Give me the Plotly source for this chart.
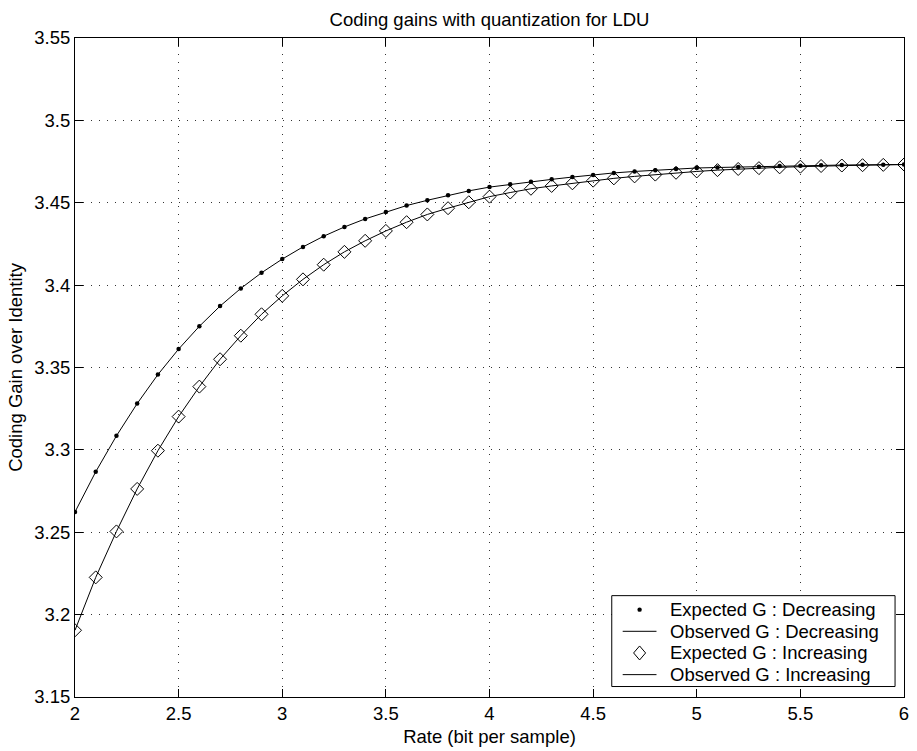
import plotly.graph_objects as go

# Rate axis (bit per sample)
rate = [round(2.0 + 0.1 * i, 1) for i in range(41)]

# Expected coding gain, decreasing ordering
expected_dec = [
    3.2623, 3.2867, 3.3085, 3.3281, 3.3457, 3.3612, 3.3750, 3.3873, 3.3980, 3.4075,
    3.4158, 3.4232, 3.4297, 3.4353, 3.4402, 3.4444, 3.4483, 3.4515, 3.4545, 3.4572,
    3.4595, 3.4612, 3.4628, 3.4642, 3.4656, 3.4669, 3.4681, 3.4690, 3.4697, 3.4705,
    3.4711, 3.4714, 3.4717, 3.4719, 3.4723, 3.4725, 3.4727, 3.4729, 3.4730, 3.4731,
    3.4732,
]

# Expected coding gain, increasing ordering
expected_inc = [
    3.1905, 3.2226, 3.2505, 3.2763, 3.2995, 3.3202, 3.3384, 3.3550, 3.3693, 3.3823,
    3.3935, 3.4035, 3.4124, 3.4202, 3.4269, 3.4329, 3.4382, 3.4429, 3.4467, 3.4503,
    3.4537, 3.4562, 3.4585, 3.4602, 3.4618, 3.4634, 3.4648, 3.4660, 3.4671, 3.4682,
    3.4690, 3.4698, 3.4705, 3.4710, 3.4715, 3.4719, 3.4723, 3.4726, 3.4728, 3.4730,
    3.4732,
]

# Observed coding gains (curves drawn through the expected points)
observed_dec = list(expected_dec)
observed_inc = list(expected_inc)

x_tickvals = [2, 2.5, 3, 3.5, 4, 4.5, 5, 5.5, 6]
x_ticktext = ["2", "2.5", "3", "3.5", "4", "4.5", "5", "5.5", "6"]
y_tickvals = [3.15, 3.2, 3.25, 3.3, 3.35, 3.4, 3.45, 3.5, 3.55]
y_ticktext = ["3.15", "3.2", "3.25", "3.3", "3.35", "3.4", "3.45", "3.5", "3.55"]

legend_labels = [
    "Expected G : Decreasing",
    "Observed G : Decreasing",
    "Expected G : Increasing",
    "Observed G : Increasing",
]
legend_kinds = ["dot", "line", "diamond", "line"]

FONT = "Liberation Sans, Arial, Helvetica, sans-serif"
FS = 18.5

W, H = 917, 751
ML, MR, MT, MB = 75, 8, 37.5, 53.5
PW, PH = W - ML - MR, H - MT - MB


def px_x(p):
    """Pixel column -> paper x."""
    return (p - ML) / PW


def px_y(p):
    """Pixel row -> paper y."""
    return (H - MB - p) / PH


fig = go.Figure()
fig.add_trace(go.Scatter(
    x=rate, y=observed_dec, mode="lines", name=legend_labels[1],
    line=dict(color="black", width=1), showlegend=False,
))
fig.add_trace(go.Scatter(
    x=rate, y=observed_inc, mode="lines", name=legend_labels[3],
    line=dict(color="black", width=1), showlegend=False,
))
fig.add_trace(go.Scatter(
    x=rate, y=expected_dec, mode="markers", name=legend_labels[0],
    marker=dict(symbol="circle", size=4.5, color="black", line=dict(width=0)),
    showlegend=False,
))
fig.add_trace(go.Scatter(
    x=rate, y=expected_inc, mode="markers", name=legend_labels[2],
    marker=dict(symbol="diamond-open", size=10, color="black", line=dict(width=1, color="black")),
    showlegend=False,
))

axis_common = dict(
    showline=True, linecolor="black", linewidth=1, mirror="ticks",
    ticks="inside", ticklen=8, tickwidth=1, tickcolor="black",
    showgrid=True, gridcolor="#333333", gridwidth=1, griddash="1px,7px",
    zeroline=False, tickfont=dict(family=FONT, size=FS, color="black"),
)

fig.update_xaxes(
    range=[2, 6], tickvals=x_tickvals, ticktext=x_ticktext,
    title=dict(text="Rate (bit per sample)", font=dict(family=FONT, size=FS, color="black"), standoff=6),
    **axis_common,
)
fig.update_yaxes(
    range=[3.15, 3.55], tickvals=y_tickvals, ticktext=y_ticktext,
    title=dict(text="Coding Gain over Identity", font=dict(family=FONT, size=FS, color="black"), standoff=6),
    **axis_common,
)

# Boxed legend in the lower-right corner of the axes
box_l, box_r, box_t, box_b = 615, 900, 596, 687
row0, row_step = 610, 21.7
sample_l, sample_r, sample_c = 626, 660, 643
text_l = 672

shapes = [dict(
    type="rect", xref="paper", yref="paper",
    x0=px_x(box_l), x1=px_x(box_r), y0=px_y(box_b), y1=px_y(box_t),
    line=dict(color="black", width=1), fillcolor="white", layer="above",
)]
annotations = []
for i, (label, kind) in enumerate(zip(legend_labels, legend_kinds)):
    yc = px_y(row0 + i * row_step)
    if kind == "line":
        shapes.append(dict(
            type="line", xref="paper", yref="paper",
            x0=px_x(sample_l), x1=px_x(sample_r), y0=yc, y1=yc,
            line=dict(color="black", width=1), layer="above",
        ))
    elif kind == "dot":
        shapes.append(dict(
            type="circle", xref="paper", yref="paper",
            xsizemode="pixel", ysizemode="pixel",
            xanchor=px_x(sample_c), yanchor=yc,
            x0=-2.2, x1=2.2, y0=-2.2, y1=2.2,
            fillcolor="black", line=dict(width=0), layer="above",
        ))
    else:
        shapes.append(dict(
            type="path", xref="paper", yref="paper",
            xsizemode="pixel", ysizemode="pixel",
            xanchor=px_x(sample_c), yanchor=yc,
            path="M 0 7 L 6 0 L 0 -7 L -6 0 Z",
            fillcolor="rgba(0,0,0,0)", line=dict(color="black", width=1), layer="above",
        ))
    annotations.append(dict(
        text=label, xref="paper", yref="paper",
        x=px_x(text_l), y=yc, xanchor="left", yanchor="middle",
        showarrow=False, font=dict(family=FONT, size=FS, color="black"),
    ))

fig.update_layout(
    width=W, height=H,
    margin=dict(l=ML, r=MR, t=MT, b=MB),
    paper_bgcolor="white", plot_bgcolor="white",
    font=dict(family=FONT, size=FS, color="black"),
    title=dict(
        text="Coding gains with quantization for LDU",
        x=0.5, xref="paper", xanchor="center",
        y=1 - 20 / H, yref="container", yanchor="middle",
        font=dict(family=FONT, size=FS, color="black"),
    ),
    showlegend=False,
    shapes=shapes,
    annotations=annotations,
)

fig.write_html("out.html")
